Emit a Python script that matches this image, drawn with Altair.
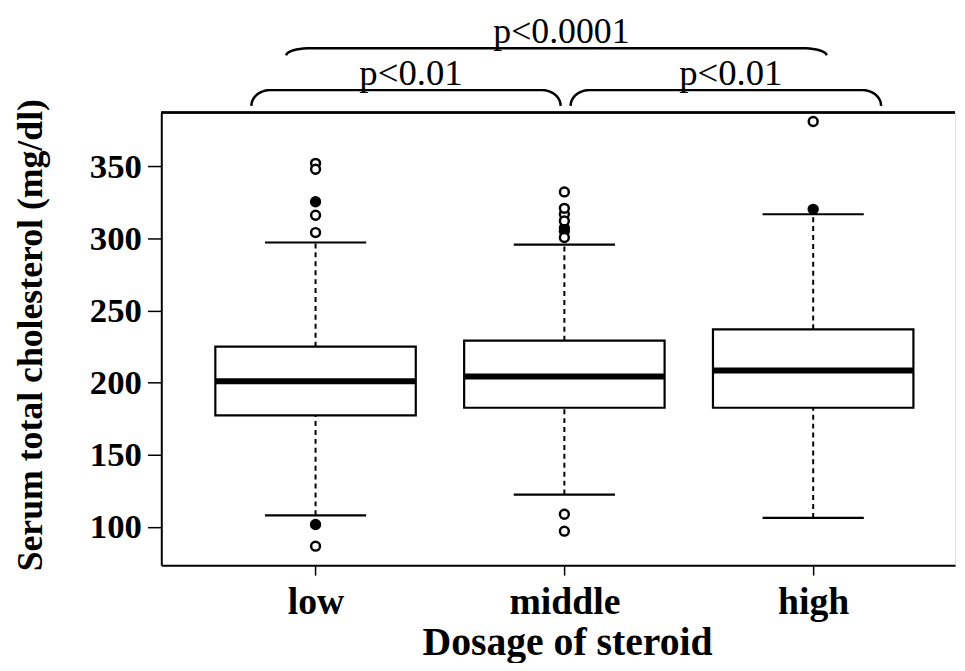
import math
import altair as alt
import pandas as pd

# ---------------- data ----------------
categories = ["low", "middle", "high"]
q1 = [177.3, 182.6, 182.6]
median = [201.0, 204.3, 208.5]
q3 = [225.0, 229.1, 237.0]
whisker_low = [108.0, 122.4, 106.2]
whisker_high = [297.2, 295.7, 316.8]

outliers_low = [352.1, 348.0, 325.5, 325.5, 316.1, 304.1, 101.6, 101.6, 86.6]
outliers_middle = [332.3, 320.9, 316.8, 312.2, 307.3, 307.3, 305.0, 305.0, 300.7, 108.7, 97.0]
outliers_high = [381.1, 320.2, 320.2]

comparisons = [("low", "middle", "p<0.01"), ("middle", "high", "p<0.01"), ("low", "high", "p<0.0001")]

y_title = "Serum total cholesterol (mg/dl)"
x_title = "Dosage of steroid"

# ---------------- layout / style constants ----------------
W, H = 800, 456.3
Y_DOMAIN = [73.4, 387.4]
X_DOMAIN = [0.38, 3.57]
BOX_HALF = 0.4028
CAP_HALF = 0.2034
FONT = "Liberation Serif"

idx = {c: i + 1 for i, c in enumerate(categories)}

box_df = pd.DataFrame({
    "cat": categories,
    "i": [idx[c] for c in categories],
    "q1": q1, "med": median, "q3": q3, "wlo": whisker_low, "whi": whisker_high,
})
box_df["left"] = box_df["i"] - BOX_HALF
box_df["right"] = box_df["i"] + BOX_HALF
box_df["capl"] = box_df["i"] - CAP_HALF
box_df["capr"] = box_df["i"] + CAP_HALF

rows = []
for cat, vals in zip(categories, [outliers_low, outliers_middle, outliers_high]):
    s = pd.Series(vals).value_counts()
    for v, n in s.items():
        rows.append({"cat": cat, "i": idx[cat], "v": v, "n": int(n)})
out_df = pd.DataFrame(rows)

# braces (annotation geometry)
brace_geom = {
    ("low", "middle"): dict(a=-0.258, b=-0.015, yend=392.0, ytop=402.9, dx=0.075, ty=406.2, fs=37),
    ("middle", "high"): dict(a=0.025, b=0.273, yend=392.0, ytop=402.9, dx=0.075, ty=406.2, fs=37),
    ("low", "high"): dict(a=-0.118, b=0.054, yend=427.0, ytop=432.0, dx=0.10, ty=435.4, fs=36),
}
brace_rows, text_rows = [], []
for bid, (c1, c2, label) in enumerate(comparisons):
    g = brace_geom[(c1, c2)]
    x0 = idx[c1] + g["a"]
    x1 = idx[c2] + g["b"]
    dy = g["ytop"] - g["yend"]
    k = 0
    n = 10
    for j in range(n + 1):
        t = (math.pi / 2) * j / n
        brace_rows.append({"b": bid, "k": k, "x": x0 + g["dx"] * (1 - math.cos(t)), "y": g["yend"] + dy * math.sin(t)})
        k += 1
    for j in range(n + 1):
        t = (math.pi / 2) * (n - j) / n
        brace_rows.append({"b": bid, "k": k, "x": x1 - g["dx"] * (1 - math.cos(t)), "y": g["yend"] + dy * math.sin(t)})
        k += 1
    text_rows.append({"x": (x0 + x1) / 2 + 0.02, "y": g["ty"], "label": label, "fs": g["fs"]})
brace_df = pd.DataFrame(brace_rows)
text_df = pd.DataFrame(text_rows)

# ---------------- scales ----------------
label_expr = " : ".join(
    [f"datum.value == {idx[c]} ? '{c}'" for c in categories[:-1]] + [f"'{categories[-1]}'"]
)
xscale = alt.Scale(domain=X_DOMAIN, nice=False, zero=False)
yscale = alt.Scale(domain=Y_DOMAIN, nice=False, zero=False)

x_axis = alt.Axis(
    values=[1, 2, 3], labelExpr=label_expr, grid=False,
    labelFont=FONT, labelFontWeight="bold", labelFontSize=38, labelColor="black",
    labelPadding=9, tickSize=10, tickWidth=1.5, tickColor="black",
    domainColor="black", domainWidth=2,
    title=x_title, titleFont=FONT, titleFontWeight="bold", titleFontSize=40, titleColor="black",
    titleX=409, titleY=90, titleBaseline="alphabetic", titleAlign="center",
)
y_axis = alt.Axis(
    values=[100, 150, 200, 250, 300, 350], grid=False,
    labelFont=FONT, labelFontWeight="bold", labelFontSize=35, labelColor="black",
    labelPadding=6, tickSize=14, tickWidth=1.5, tickColor="black",
    domainColor="black", domainWidth=2,
    title=y_title, titleFont=FONT, titleFontWeight="bold", titleFontSize=36, titleColor="black",
    titleX=-132, titleY=224, titleAngle=270, titleAlign="center", titleBaseline="middle",
)

base = alt.Chart(box_df)

whisk_hi = base.mark_rule(color="black", strokeWidth=2, strokeDash=[5, 4]).encode(
    x=alt.X("i:Q", scale=xscale, axis=x_axis),
    y=alt.Y("q3:Q", scale=yscale, axis=y_axis),
    y2="whi:Q",
)
whisk_lo = base.mark_rule(color="black", strokeWidth=2, strokeDash=[5, 4]).encode(
    x="i:Q", y="wlo:Q", y2="q1:Q",
)
box = base.mark_rect(fill="white", stroke="black", strokeWidth=2.2).encode(
    x="left:Q", x2="right:Q", y="q1:Q", y2="q3:Q",
)
med = base.mark_rule(color="black", strokeWidth=6).encode(
    x="left:Q", x2="right:Q", y="med:Q",
)
cap_hi = base.mark_rule(color="black", strokeWidth=2.2).encode(
    x="capl:Q", x2="capr:Q", y="whi:Q",
)
cap_lo = base.mark_rule(color="black", strokeWidth=2.2).encode(
    x="capl:Q", x2="capr:Q", y="wlo:Q",
)
outl = alt.Chart(out_df).mark_point(shape="circle", size=80, stroke="black", strokeWidth=2.5, opacity=1).encode(
    x="i:Q", y="v:Q",
    fill=alt.condition("datum.n > 1", alt.value("black"), alt.value("white")),
)
braces = alt.Chart(brace_df).mark_line(color="black", strokeWidth=2.5).encode(
    x="x:Q", y="y:Q", detail="b:N", order="k:Q",
)
ptext = alt.Chart(text_df).mark_text(font=FONT, color="black", baseline="alphabetic", align="center").encode(
    x="x:Q", y="y:Q", text="label:N", size=alt.Size("fs:Q", scale=None, legend=None),
)
top_border = alt.Chart(box_df).mark_rule(color="black", strokeWidth=2).encode(
    x=alt.value(0), x2=alt.value(W), y=alt.value(0),
)

chart = alt.layer(
    whisk_hi, whisk_lo, box, med, cap_hi, cap_lo, outl, braces, ptext, top_border
).properties(
    width=W, height=H,
    autosize=alt.AutoSizeParams(type="none"),
    padding={"left": 154.5, "top": 102.7, "right": 2, "bottom": 96},
).configure_view(stroke=None).configure(background="white")

chart.save("out.html", embed_options={"renderer": "svg", "actions": False})
